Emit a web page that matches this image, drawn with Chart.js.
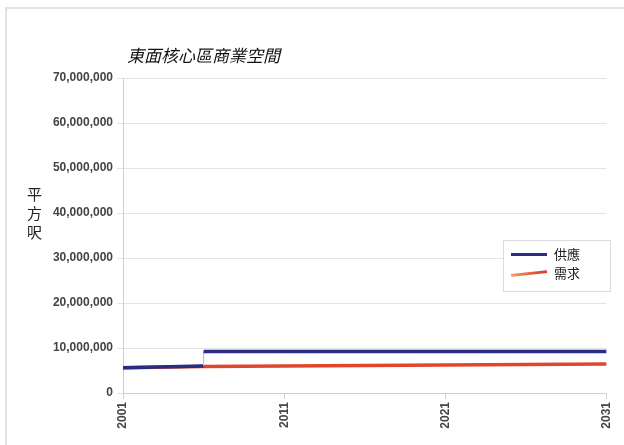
<!DOCTYPE html>
<html>
<head>
<meta charset="utf-8">
<script src="https://cdn.jsdelivr.net/npm/chart.js@4/dist/chart.umd.min.js"></script>
<style>
  body { margin: 0; background: #fff; }
  #wrap { position: relative; width: 624px; height: 445px; overflow: hidden; }
  #frame { position: absolute; left: 5px; top: 7px; right: 0; bottom: 0;
           border-top: 2px solid #e2e2e2; border-left: 2px solid #e2e2e2; }
  #title { position: absolute; left: 127px; top: 42px; font: italic 17px "Noto Sans CJK TC", sans-serif; color: #111; }
  #ytitle { position: absolute; left: 27px; top: 184px; width: 16px; font: 15px "Noto Sans CJK TC", sans-serif;
            line-height: 19px; color: #222; }
  #legend { position: absolute; left: 503px; top: 240px; width: 106px; height: 50px; background: #fff;
            border: 1px solid #dcdcdc; font: 13px "Noto Sans CJK TC", sans-serif; color: #222; }
  .item { position: absolute; left: 7px; height: 18px; }
  .swatch { position: absolute; left: 0; top: 8px; width: 36px; height: 3px; }
  .item span { position: absolute; left: 43px; top: -1px; white-space: nowrap; }
</style>
</head>
<body>
<div id="wrap">
  <canvas id="chart" width="624" height="445"></canvas>
  <div id="frame"></div>
  <div id="title">東面核心區商業空間</div>
  <div id="ytitle">平<br>方<br>呎</div>
  <div id="legend">
    <div class="item" style="top:4px"><div class="swatch" style="background:#2b2b85"></div><span>供應</span></div>
    <div class="item" style="top:23px"><div class="swatch" style="background:linear-gradient(90deg,#f0a060,#d9332a);transform:rotate(-6deg)"></div><span>需求</span></div>
  </div>
</div>
<script>
const supplyLabel = '供應';
const demandLabel = '需求';
const supplyYears = [2001, 2006, 2006, 2031];
const supplyValues = [5600000, 6000000, 9200000, 9200000];
const demandYears = [2001, 2006, 2031];
const demandValues = [5600000, 5900000, 6450000];
const yTicks = [0, 10000000, 20000000, 30000000, 40000000, 50000000, 60000000, 70000000];
const xTicks = [2001, 2011, 2021, 2031];

const toPoints = (xs, ys) => xs.map((x, i) => ({ x: x, y: ys[i] }));
const tickFont = { family: 'Liberation Sans', size: 12, weight: 'bold' };

const ctx = document.getElementById('chart').getContext('2d');
const chart = new Chart(ctx, {
    type: 'line',
    data: {
        datasets: [
            {
                label: supplyLabel,
                data: toPoints(supplyYears, supplyValues),
                borderColor: '#2b2b85',
                borderWidth: 3.5,
                pointRadius: 0,
                tension: 0,
                segment: {
                    borderColor: c => c.p0.parsed.x === c.p1.parsed.x ? '#b8b8c8' : undefined,
                    borderWidth: c => c.p0.parsed.x === c.p1.parsed.x ? 1 : undefined
                }
            },
            {
                label: demandLabel,
                data: toPoints(demandYears, demandValues),
                borderColor: '#e0462c',
                borderWidth: 3.5,
                pointRadius: 0,
                tension: 0
            }
        ]
    },
    options: {
        responsive: false,
        animation: false,
        layout: { padding: { left: 0, top: 78, right: 16, bottom: 0 } },
        scales: {
            x: {
                type: 'linear',
                min: 2001,
                max: 2031,
                afterBuildTicks: axis => { axis.ticks = xTicks.map(v => ({ value: v })); },
                afterFit: axis => { axis.height = 52; },
                ticks: {
                    minRotation: 90,
                    maxRotation: 90,
                    color: '#444',
                    font: tickFont,
                    padding: 3,
                    callback: v => String(v)
                },
                grid: { drawOnChartArea: false, tickLength: 6, color: '#cfcfcf' },
                border: { color: '#cfcfcf' }
            },
            y: {
                min: 0,
                max: 70000000,
                afterBuildTicks: axis => { axis.ticks = yTicks.map(v => ({ value: v })); },
                afterFit: axis => { axis.width = 123; },
                ticks: {
                    color: '#444',
                    font: tickFont,
                    padding: 4,
                    callback: v => v.toLocaleString('en-US')
                },
                grid: { color: '#e4e4e4', tickLength: 6 },
                border: { color: '#cfcfcf' }
            }
        },
        plugins: {
            legend: { display: false },
            tooltip: { enabled: false }
        }
    }
});
</script>
</body>
</html>
